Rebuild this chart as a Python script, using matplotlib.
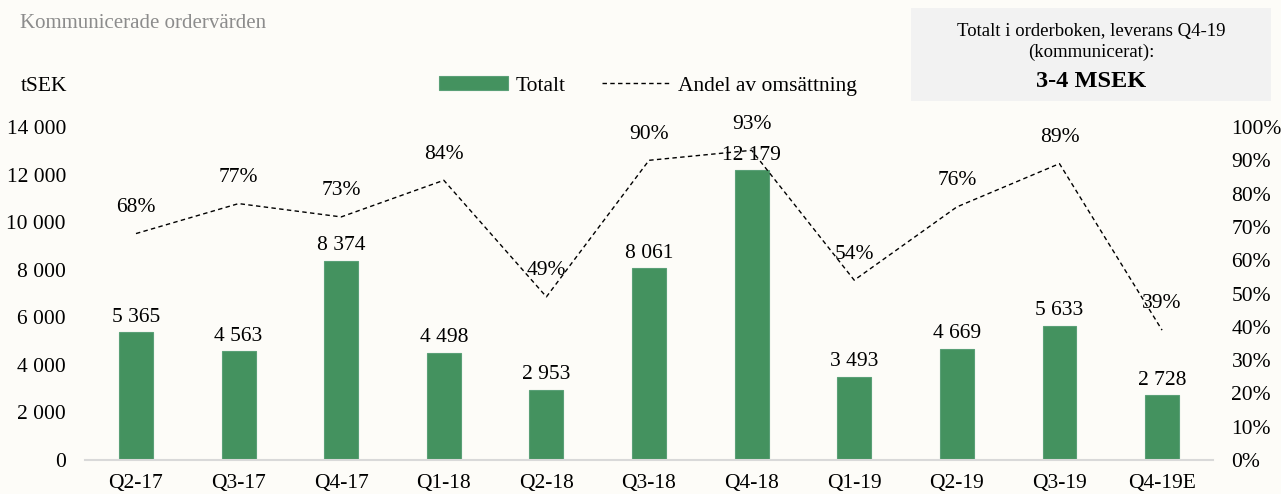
import matplotlib.pyplot as plt
from matplotlib.patches import Rectangle

plt.rcParams['font.family'] = ['Liberation Serif', 'DejaVu Serif']

quarters = ['Q2-17', 'Q3-17', 'Q4-17', 'Q1-18', 'Q2-18', 'Q3-18', 'Q4-18',
            'Q1-19', 'Q2-19', 'Q3-19', 'Q4-19E']
totalt = [5365, 4563, 8374, 4498, 2953, 8061, 12179, 3493, 4669, 5633, 2728]
andel = [68, 77, 73, 84, 49, 90, 93, 54, 76, 89, 39]

bg = '#FDFCF8'
green = '#44925F'
fs = 15.5

fig = plt.figure(figsize=(12.81, 4.94), dpi=100, facecolor=bg)
ax = fig.add_axes([0.0661, 0.0688, 0.8811, 0.6741], facecolor=bg)
ax2 = ax.twinx()

x = list(range(len(quarters)))
bars = ax.bar(x, totalt, width=0.33, color=green, edgecolor='#5AA077',
              linewidth=0.8, label='Totalt', zorder=2)
ax.set_xlim(-0.5, len(quarters) - 0.5)
ax.set_ylim(0, 14000)
ax.set_yticks(range(0, 14001, 2000))
ax.set_yticklabels([f'{v:,}'.replace(',', ' ') for v in range(0, 14001, 2000)])
ax.set_xticks(x)
ax.set_xticklabels(quarters)

for xi, v in zip(x, totalt):
    ax.annotate(f'{v:,}'.replace(',', ' '), (xi, v), xytext=(0, 4),
                textcoords='offset points', ha='center', va='bottom',
                fontsize=fs, zorder=5)

line, = ax2.plot(x, andel, color='black', linestyle=(0, (3.2, 2.4)), linewidth=1.0,
                 label='Andel av omsättning', zorder=3)
ax2.set_ylim(0, 100)
ax2.set_yticks(range(0, 101, 10))
ax2.set_yticklabels([f'{v}%' for v in range(0, 101, 10)])
for xi, v in zip(x, andel):
    ax2.annotate(f'{v}%', (xi, v), xytext=(0, 12), textcoords='offset points',
                 ha='center', va='bottom', fontsize=fs)

for a in (ax, ax2):
    for s in a.spines.values():
        s.set_visible(False)
    a.tick_params(length=0, labelsize=fs)
ax.spines['bottom'].set_visible(True)
ax.spines['bottom'].set_color('#D9D9D9')
ax.spines['bottom'].set_linewidth(1.5)
ax.tick_params(axis='y', pad=13.5)
ax.tick_params(axis='x', pad=10)
ax2.tick_params(axis='y', pad=13)

fig.legend(handles=[bars, line], loc='center', bbox_to_anchor=(0.506, 0.826),
           ncol=2, frameon=False, fontsize=fs, handlelength=3.2,
           handleheight=0.6, columnspacing=1.7, handletextpad=0.35)

fig.text(0.016, 0.952, 'Kommunicerade ordervärden', fontsize=15,
         color='#8C8C8C', va='center')
fig.text(0.016, 0.824, 'tSEK', fontsize=fs, va='center')

fig.patches.append(Rectangle((911 / 1281, 1 - 101 / 494), 360 / 1281, 93 / 494,
                             transform=fig.transFigure, facecolor='#F2F2F2',
                             edgecolor='none', zorder=0))
fig.text(1091 / 1281, 1 - 42 / 494, 'Totalt i orderboken, leverans Q4-19\n(kommunicerat):',
         fontsize=13.5, ha='center', va='center', linespacing=1.3)
fig.text(1091 / 1281, 1 - 81 / 494, '3-4 MSEK', fontsize=17.5, fontweight='bold',
         ha='center', va='center')

fig.savefig('out.png', dpi=100, facecolor=bg)
